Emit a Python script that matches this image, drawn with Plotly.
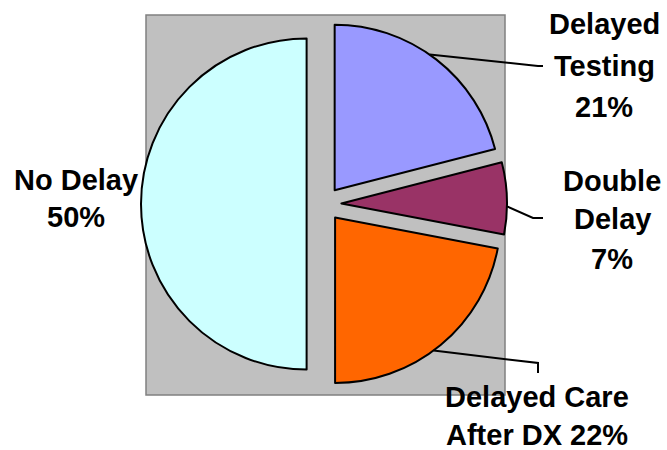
import math
import plotly.graph_objects as go

# ---- data ----
categories = ["Delayed Testing", "Double Delay", "Delayed Care After DX", "No Delay"]
values = [21, 7, 22, 50]
colors = ["#9999FF", "#993366", "#FF6600", "#CCFFFF"]
# label line-breaks (text only)
label_lines = [["Delayed", "Testing"], ["Double", "Delay"], ["Delayed Care", "After DX"], ["No Delay"]]

W, H = 667, 450
total = sum(values)
pcts = [f"{round(v / total * 100)}%" for v in values]
PULL = 0.105

# pie geometry (pixels)
CX, CY, HALF = 324, 204, 183
R = HALF / (1 + PULL)


def px(x):
    return x / W


def py(y):
    return 1 - y / H


fig = go.Figure()

fig.add_trace(go.Pie(
    labels=categories,
    values=values,
    sort=False,
    direction="clockwise",
    rotation=0,
    pull=[PULL] * len(values),
    marker=dict(colors=colors, line=dict(color="black", width=2)),
    textinfo="none",
    hoverinfo="label+percent",
    showlegend=False,
    domain=dict(x=[px(CX - HALF), px(CX + HALF)], y=[py(CY + HALF), py(CY - HALF)]),
))

# gray plot area background
fig.add_shape(type="rect", xref="paper", yref="paper",
              x0=px(146), x1=px(505), y0=py(395), y1=py(15),
              fillcolor="#C0C0C0", line=dict(color="#808080", width=1.5),
              layer="below")

# slice mid angles (degrees clockwise from 12 o'clock)
mids = []
acc = 0
for v in values:
    a = v / total * 360
    mids.append(acc + a / 2)
    acc += a


def arc_point(i, ang):
    m = math.radians(mids[i])
    ax = CX + PULL * R * math.sin(m)
    ay = CY - PULL * R * math.cos(m)
    a = math.radians(ang)
    return ax + R * math.sin(a), ay - R * math.cos(a)


# leader lines: (slice index, angle on arc, elbow, end)
leaders = [
    (0, 35, (538, 66), (543, 66)),
    (1, 91, (533, 218), (543, 218)),
    (2, 143.5, (538, 363), (538, 373)),
]
for i, ang, elbow, end in leaders:
    pts = [arc_point(i, ang), elbow, end]
    path = "M " + " L ".join(f"{px(x)},{py(y)}" for x, y in pts)
    fig.add_shape(type="path", xref="paper", yref="paper", path=path,
                  line=dict(color="black", width=2))

# labels (one annotation per line)
font = dict(family="Liberation Sans, Arial, sans-serif", size=29, color="black", weight="bold")
label_pos = [
    (604, [23, 65, 106]),
    (612, [180, 218, 258]),
    (537, [396, 434]),
    (76, [179, 216]),
]
for i, (cx, ys) in enumerate(label_pos):
    lines = list(label_lines[i])
    if i == 2:
        lines[-1] = lines[-1] + " " + pcts[i]
    else:
        lines.append(pcts[i])
    for txt, y in zip(lines, ys):
        fig.add_annotation(x=px(cx), y=py(y + 1), xref="paper", yref="paper",
                           text=txt, showarrow=False, font=font,
                           xanchor="center", yanchor="middle")

fig.update_layout(
    width=W, height=H,
    margin=dict(l=0, r=0, t=0, b=0),
    paper_bgcolor="white",
    plot_bgcolor="white",
)

fig.write_html("out.html")
